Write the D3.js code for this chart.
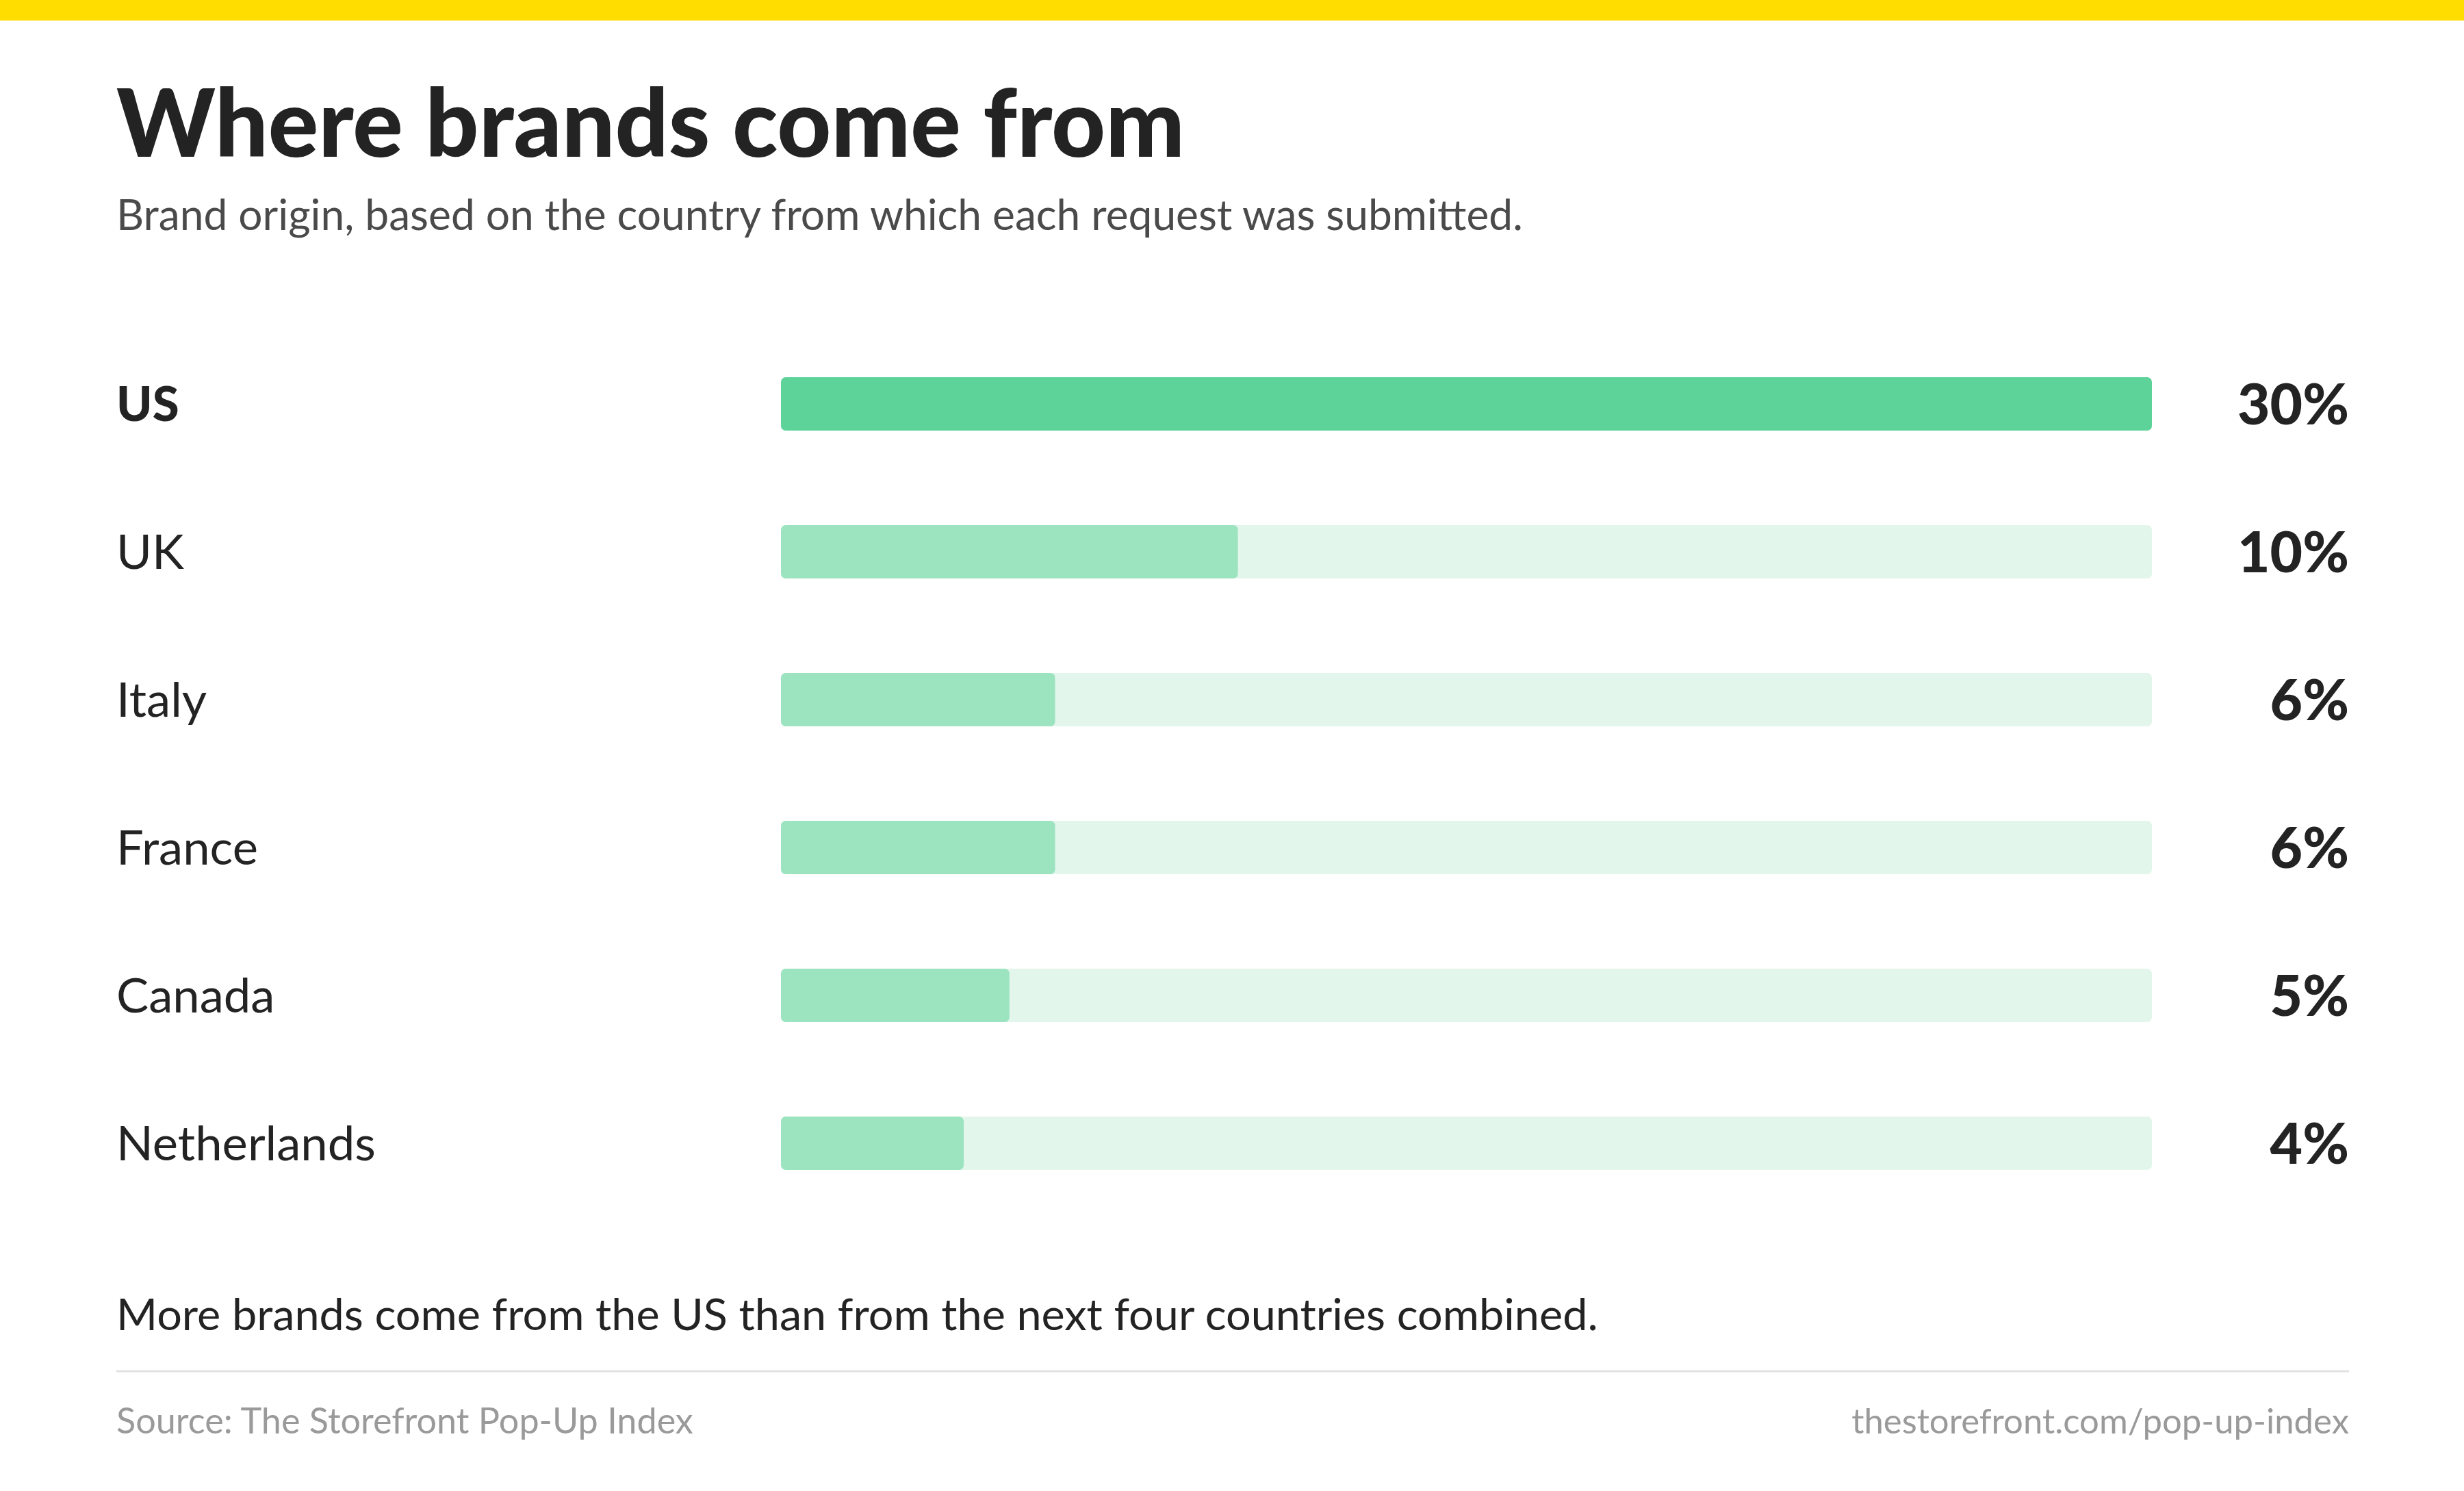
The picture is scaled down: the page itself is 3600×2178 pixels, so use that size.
<!DOCTYPE html>
<html>
<head>
<meta charset="utf-8">
<script src="https://cdn.jsdelivr.net/npm/d3@7"></script>
<style>
  html, body { margin: 0; padding: 0; background: #fff; }
  text { font-family: Lato, "Open Sans", sans-serif; }
</style>
</head>
<body>
<div id="chart"></div>
<script>
// Data
const countries = ["US", "UK", "Italy", "France", "Canada", "Netherlands"];
const shares = [30, 10, 6, 6, 5, 4];
const valueLabels = ["30%", "10%", "6%", "6%", "5%", "4%"];
const maxShare = 30;

const width = 3600;
const height = 2178;
const left = 170;
const right = 3432;

const svg = d3.select("#chart")
    .append("svg")
    .attr("width", width)
    .attr("height", height);

// Size a text so that its width matches the reference
function fitSize(sel, target) {
    const base = parseFloat(sel.attr("font-size"));
    const w = sel.node().getComputedTextLength();
    sel.attr("font-size", base * target / w);
}

// Yellow band on top
svg.append("rect")
    .attr("x", 0).attr("y", 0)
    .attr("width", width).attr("height", 30)
    .attr("fill", "#ffdd00");

// Title and subtitle
const title = svg.append("text")
    .attr("x", left).attr("y", 229)
    .attr("font-size", 120)
    .attr("font-weight", 900)
    .attr("fill", "#232323")
    .text("Where brands come from");
fitSize(title, 1561);

const subtitle = svg.append("text")
    .attr("x", left).attr("y", 336)
    .attr("font-size", 60)
    .attr("fill", "#4a4a4a")
    .text("Brand origin, based on the country from which each request was submitted.");
fitSize(subtitle, 2055);

// Scales
const x = d3.scaleLinear()
    .domain([0, maxShare])
    .range([1141, 3144]);

const y = d3.scaleBand()
    .domain(countries)
    .range([482, 1778])
    .paddingInner(0.639)
    .paddingOuter(0.3195);

const rows = countries.map((c, i) => ({ country: c, share: shares[i], label: valueLabels[i], i }));

// Track behind each bar
svg.append("g").selectAll("rect")
    .data(rows)
    .join("rect")
    .attr("x", x(0))
    .attr("y", d => y(d.country))
    .attr("width", x(maxShare) - x(0))
    .attr("height", y.bandwidth())
    .attr("rx", 7)
    .attr("fill", "#e3f6ec");

// Bars
svg.append("g").selectAll("rect")
    .data(rows)
    .join("rect")
    .attr("x", x(0))
    .attr("y", d => y(d.country))
    .attr("width", d => x(d.share) - x(0))
    .attr("height", y.bandwidth())
    .attr("rx", 7)
    .attr("fill", d => d.i === 0 ? "#5dd39a" : "#9ce4bf");

// Country labels
const labels = svg.append("g").selectAll("text")
    .data(rows)
    .join("text")
    .attr("x", left)
    .attr("y", d => y(d.country) + y.bandwidth() / 2)
    .attr("dy", "0.36em")
    .attr("font-size", 80)
    .attr("font-weight", d => d.i === 0 ? 900 : 400)
    .attr("fill", "#232323")
    .text(d => d.country);
fitSize(labels.filter(d => d.country === "Netherlands"), 379);
labels.attr("font-size", labels.filter(d => d.country === "Netherlands").attr("font-size"));

// Value labels
const values = svg.append("g").selectAll("text")
    .data(rows)
    .join("text")
    .attr("x", right)
    .attr("y", d => y(d.country) + y.bandwidth() / 2)
    .attr("dy", "0.36em")
    .attr("text-anchor", "end")
    .attr("font-size", 80)
    .attr("font-weight", 900)
    .attr("fill", "#232323")
    .text(d => d.label);
fitSize(values.filter(d => d.i === 0), 163);
values.attr("font-size", values.filter(d => d.i === 0).attr("font-size"));

// Takeaway note
const note = svg.append("text")
    .attr("x", left).attr("y", 1943)
    .attr("font-size", 66)
    .attr("fill", "#232323")
    .text("More brands come from the US than from the next four countries combined.");
fitSize(note, 2165);

// Divider
svg.append("line")
    .attr("x1", left).attr("x2", right)
    .attr("y1", 2003).attr("y2", 2003)
    .attr("stroke", "#e2e2e2")
    .attr("stroke-width", 3);

// Footer
const source = svg.append("text")
    .attr("x", left).attr("y", 2094)
    .attr("font-size", 52)
    .attr("fill", "#9a9a9a")
    .text("Source: The Storefront Pop-Up Index");
fitSize(source, 843);

const url = svg.append("text")
    .attr("x", right).attr("y", 2094)
    .attr("text-anchor", "end")
    .attr("font-size", 52)
    .attr("fill", "#9a9a9a")
    .text("thestorefront.com/pop-up-index");
fitSize(url, 727);
</script>
</body>
</html>
